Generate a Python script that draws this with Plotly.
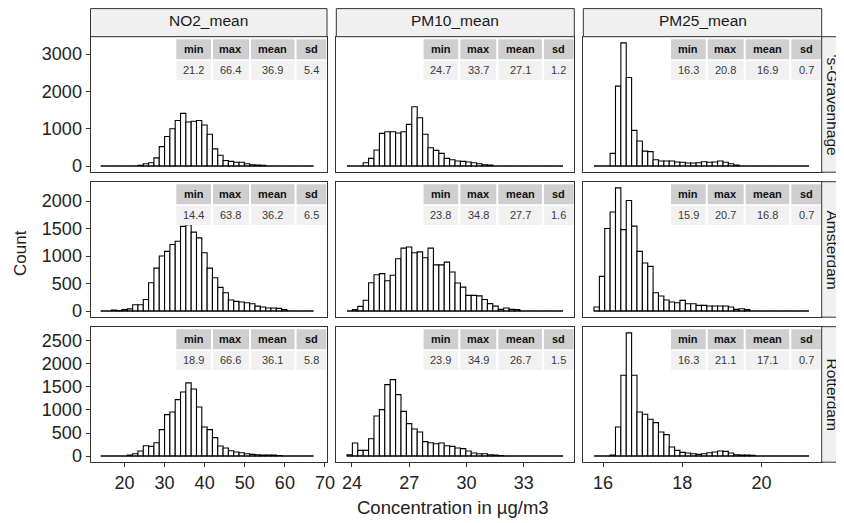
import plotly.graph_objects as go

# ---------------- data ----------------
variables = ["NO2_mean", "PM10_mean", "PM25_mean"]
cities = ["'s-Gravenhage", "Amsterdam", "Rotterdam"]

# histogram bins per variable (40 bins): start and width
bin_start = [14.1, 23.74, 15.77]
bin_width = [1.326, 0.283, 0.1357]
n_bins = 40

counts_no2_sgravenhage = [0, 0, 0, 0, 0, 0, 0, 20, 60, 90, 220, 520, 790, 1000, 1220, 1410, 1180, 1200, 1220, 1100,
                          850, 460, 290, 150, 125, 100, 100, 60, 35, 25, 20, 0, 0, 0, 0, 0, 0, 0, 0, 0]
counts_pm10_sgravenhage = [0, 0, 0, 90, 205, 430, 875, 920, 920, 885, 920, 1115, 1590, 1295, 850, 490, 420, 340, 205, 170,
                           135, 125, 107, 90, 60, 35, 25, 0, 0, 0, 0, 0, 0, 0, 0, 0, 0, 0, 0, 0]
counts_pm25_sgravenhage = [0, 0, 0, 340, 2140, 3300, 2370, 955, 670, 400, 385, 170, 135, 135, 135, 107, 100, 80, 80, 90,
                           115, 100, 107, 135, 100, 60, 25, 0, 0, 0, 0, 0, 0, 0, 0, 0, 0, 0, 0, 0]
counts_no2_amsterdam = [0, 0, 20, 10, 25, 40, 115, 115, 210, 515, 780, 1000, 1085, 1210, 1270, 1540, 1570, 1435, 1330, 1060,
                        780, 605, 430, 333, 200, 175, 165, 150, 133, 90, 73, 55, 55, 48, 25, 0, 0, 0, 0, 0]
counts_pm10_amsterdam = [0, 25, 85, 195, 515, 660, 680, 550, 650, 950, 1145, 1165, 1060, 1075, 970, 1145, 840, 840, 890, 710,
                         510, 435, 285, 285, 275, 210, 135, 90, 30, 55, 30, 25, 0, 0, 0, 0, 0, 0, 0, 0]
counts_pm25_amsterdam = [73, 630, 1500, 1800, 2240, 1480, 2010, 1545, 1085, 873, 812, 333, 273, 200, 164, 152, 194, 133, 133, 103,
                         103, 91, 91, 91, 91, 73, 30, 42, 25, 0, 0, 0, 0, 0, 0, 0, 0, 0, 0, 0]
counts_no2_rotterdam = [0, 0, 0, 0, 0, 22, 50, 109, 225, 210, 290, 573, 900, 957, 1225, 1392, 1588, 1457, 1066, 630,
                        573, 400, 218, 174, 116, 87, 72, 50, 36, 29, 22, 20, 20, 10, 0, 0, 0, 0, 0, 0]
counts_pm10_rotterdam = [29, 283, 123, 123, 377, 870, 1008, 1551, 1660, 1334, 971, 703, 587, 522, 312, 290, 268, 283, 225, 210,
                         174, 160, 109, 65, 50, 50, 29, 22, 10, 0, 0, 0, 0, 0, 0, 0, 0, 0, 0, 0]
counts_pm25_rotterdam = [0, 0, 0, 22, 630, 1754, 2675, 1754, 957, 906, 798, 725, 522, 464, 196, 123, 80, 65, 51, 36,
                         51, 72, 87, 109, 101, 65, 29, 22, 22, 15, 0, 0, 0, 0, 0, 0, 0, 0, 0, 0]

counts = [
    [counts_no2_sgravenhage, counts_pm10_sgravenhage, counts_pm25_sgravenhage],
    [counts_no2_amsterdam, counts_pm10_amsterdam, counts_pm25_amsterdam],
    [counts_no2_rotterdam, counts_pm10_rotterdam, counts_pm25_rotterdam],
]

stat_headers = ["min", "max", "mean", "sd"]
stats_sgravenhage = [["21.2", "66.4", "36.9", "5.4"], ["24.7", "33.7", "27.1", "1.2"], ["16.3", "20.8", "16.9", "0.7"]]
stats_amsterdam = [["14.4", "63.8", "36.2", "6.5"], ["23.8", "34.8", "27.7", "1.6"], ["15.9", "20.7", "16.8", "0.7"]]
stats_rotterdam = [["18.9", "66.6", "36.1", "5.8"], ["23.9", "34.9", "26.7", "1.5"], ["16.3", "21.1", "17.1", "0.7"]]
stats = [stats_sgravenhage, stats_amsterdam, stats_rotterdam]

x_ticks = [[20, 30, 40, 50, 60, 70], [24, 27, 30, 33], [16, 18, 20]]
y_ticks = [[0, 1000, 2000, 3000], [0, 500, 1000, 1500, 2000], [0, 500, 1000, 1500, 2000, 2500]]

# ---------------- layout geometry (page pixels; the page body has an 8px margin) ----------------
OFF = 8
W, H = 844 - OFF, 523 - OFF
FONT = "Liberation Sans, Arial, sans-serif"
col_px = [(90.5, 327.0), (336.3, 574.3), (583.3, 821.7)]
row_px = [(36.7, 172.2), (181.7, 317.2), (326.7, 462.2)]
x_ranges = [[11.55, 70.5], [23.18, 35.65], [15.50, 21.52]]


def fx(p):
    return (p - OFF) / W


def fy(p):
    return 1 - (p - OFF) / H


fig = go.Figure()
layout = dict(
    width=W, height=H, margin=dict(l=0, r=0, t=0, b=0),
    paper_bgcolor="white", plot_bgcolor="white", showlegend=False,
    template="none", font=dict(family=FONT, color="#222"),
)
shapes = []
annotations = []

for r in range(3):
    row_max = max(max(c) for c in counts[r])
    yr = [-0.05 * row_max, 1.05 * row_max]
    for c in range(3):
        i = r * 3 + c + 1
        xa = "x" if i == 1 else f"x{i}"
        ya = "y" if i == 1 else f"y{i}"
        centers = [bin_start[c] + (k + 0.5) * bin_width[c] for k in range(n_bins)]
        fig.add_trace(go.Bar(
            x=centers, y=counts[r][c], width=bin_width[c],
            marker=dict(color="white", line=dict(color="black", width=1.1)),
            xaxis=xa, yaxis=ya, hoverinfo="x+y",
        ))
        fig.add_trace(go.Scatter(
            x=[bin_start[c], bin_start[c] + n_bins * bin_width[c]], y=[0, 0],
            mode="lines", line=dict(color="black", width=1.1),
            xaxis=xa, yaxis=ya, hoverinfo="skip",
        ))
        bottom = r == 2
        left = c == 0
        layout["xaxis" if i == 1 else f"xaxis{i}"] = dict(
            domain=[fx(col_px[c][0]), fx(col_px[c][1])], anchor=ya, range=x_ranges[c],
            showgrid=False, zeroline=False, showline=True, mirror=True,
            linecolor="#333", linewidth=1, automargin=False,
            ticks="outside" if bottom else "", ticklen=4, tickcolor="#333",
            tickvals=x_ticks[c], showticklabels=bottom,
            tickfont=dict(size=18, color="#222", family=FONT),
        )
        layout["yaxis" if i == 1 else f"yaxis{i}"] = dict(
            domain=[fy(row_px[r][1]), fy(row_px[r][0])], anchor=xa, range=yr,
            showgrid=False, zeroline=False, showline=True, mirror=True,
            linecolor="#333", linewidth=1, automargin=False,
            ticks="outside" if left else "", ticklen=4, tickcolor="#333",
            tickvals=y_ticks[r], showticklabels=left,
            tickfont=dict(size=18, color="#222", family=FONT),
        )

        # statistics table in the top-right corner of the panel
        R = col_px[c][1]
        T = row_px[r][0]
        cells = [(-150.7, -116.0), (-114.0, -78.0), (-76.0, -32.4), (-30.4, -0.6)]
        for k, (a, b) in enumerate(cells):
            shapes.append(dict(type="rect", xref="paper", yref="paper", layer="above",
                               x0=fx(R + a), x1=fx(R + b), y0=fy(T + 22.6), y1=fy(T + 2.6),
                               fillcolor="#cfcfcf", line=dict(width=0)))
            shapes.append(dict(type="rect", xref="paper", yref="paper", layer="above",
                               x0=fx(R + a), x1=fx(R + b), y0=fy(T + 43.3), y1=fy(T + 24.0),
                               fillcolor="#f1f1f1", line=dict(width=0)))
            annotations.append(dict(xref="paper", yref="paper", x=fx(R + (a + b) / 2), y=fy(T + 12.6),
                                    text=f"<b>{stat_headers[k]}</b>", showarrow=False,
                                    font=dict(size=11, color="#111", family=FONT),
                                    xanchor="center", yanchor="middle"))
            annotations.append(dict(xref="paper", yref="paper", x=fx(R + (a + b) / 2), y=fy(T + 33.6),
                                    text=stats[r][c][k], showarrow=False,
                                    font=dict(size=11, color="#3a3a3a", family=FONT),
                                    xanchor="center", yanchor="middle"))

# strips
for c in range(3):
    shapes.append(dict(type="rect", xref="paper", yref="paper", layer="above",
                       x0=fx(col_px[c][0]), x1=fx(col_px[c][1]), y0=fy(row_px[0][0]), y1=fy(OFF + 0.6),
                       fillcolor="#f0f0f0", line=dict(color="#333", width=1)))
    annotations.append(dict(xref="paper", yref="paper", x=fx(sum(col_px[c]) / 2), y=fy(20.5),
                            text=variables[c], showarrow=False,
                            font=dict(size=15.5, color="#1a1a1a", family=FONT),
                            xanchor="center", yanchor="middle"))
for r in range(3):
    shapes.append(dict(type="rect", xref="paper", yref="paper", layer="above",
                       x0=fx(col_px[2][1]), x1=fx(844 + 4), y0=fy(row_px[r][1]), y1=fy(row_px[r][0]),
                       fillcolor="#f0f0f0", line=dict(color="#333", width=1)))
    annotations.append(dict(xref="paper", yref="paper", x=fx(833.0), y=fy(sum(row_px[r]) / 2),
                            text=cities[r], showarrow=False, textangle=90,
                            font=dict(size=15.5, color="#1a1a1a", family=FONT),
                            xanchor="center", yanchor="middle"))

# axis titles
annotations.append(dict(xref="paper", yref="paper", x=fx(20), y=fy(253), text="Count", showarrow=False,
                        textangle=-90, font=dict(size=17, color="#222", family=FONT),
                        xanchor="center", yanchor="middle"))
annotations.append(dict(xref="paper", yref="paper", x=fx(453), y=fy(507), text="Concentration in µg/m3",
                        showarrow=False, font=dict(size=18.5, color="#222", family=FONT),
                        xanchor="center", yanchor="middle"))

layout["shapes"] = shapes
layout["annotations"] = annotations
fig.update_layout(**layout)
fig.write_html("out.html")
